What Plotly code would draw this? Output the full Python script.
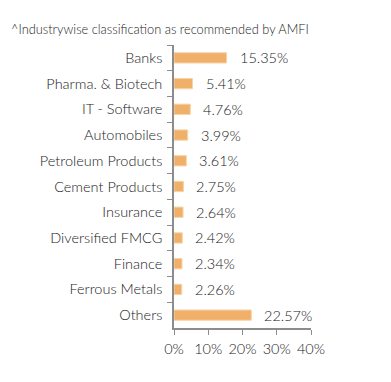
import plotly.graph_objects as go

categories = ["Banks", "Pharma. & Biotech", "IT - Software", "Automobiles",
              "Petroleum Products", "Cement Products", "Insurance",
              "Diversified FMCG", "Finance", "Ferrous Metals", "Others"]
values = [15.35, 5.41, 4.76, 3.99, 3.61, 2.75, 2.64, 2.42, 2.34, 2.26, 22.57]
value_labels = ["15.35%", "5.41%", "4.76%", "3.99%", "3.61%", "2.75%",
                "2.64%", "2.42%", "2.34%", "2.26%", "22.57%"]
x_ticks = [0, 10, 20, 30, 40]
x_tick_labels = ["0%", "10%", "20%", "30%", "40%"]
title_text = "^Industrywise classification as recommended by AMFI"

FONT = "Lato Light, Lato"
TXT = "#222222"
AX = "#8c8c8c"
L, R, T, B = 166, 80, 37, 54
W, H = 383, 374
PW, PH = W - L - R, H - T - B

fig = go.Figure()
fig.add_trace(go.Bar(
    x=values, y=categories, orientation="h",
    marker=dict(color="#F0B06A", line=dict(color="#F7D3A8", width=1)),
    width=0.4,
))
for c, v, t in zip(categories, values, value_labels):
    fig.add_annotation(x=v, y=c, text=t, xanchor="left", xshift=11,
                       showarrow=False,
                       font=dict(family=FONT, size=14.5, color=TXT))

fig.update_layout(
    width=W, height=H,
    margin=dict(l=L, r=R, t=T, b=B),
    paper_bgcolor="white", plot_bgcolor="white",
    font=dict(family=FONT, size=14, color=TXT),
    showlegend=False,
)
fig.add_annotation(text=title_text, xref="paper", yref="paper",
                   x=(1 - L) / PW, y=1 + (T - 21) / PH, xanchor="left", yanchor="middle",
                   showarrow=False, font=dict(family=FONT, size=12.8, color=TXT))

fig.update_xaxes(range=[0, 40], tickvals=x_ticks, ticktext=x_tick_labels,
                 showgrid=False, zeroline=False, showline=True,
                 linecolor=AX, linewidth=1.5, ticks="outside",
                 ticklen=5, tickcolor=AX, automargin=False,
                 ticklabelstandoff=2,
                 tickfont=dict(family=FONT, size=14.5, color=TXT))
fig.update_yaxes(categoryorder="array", categoryarray=categories,
                 autorange="reversed", automargin=False,
                 showgrid=False, showline=True, linecolor=AX, linewidth=1.5,
                 ticks="outside", tickson="boundaries", ticklen=5,
                 tickcolor=AX, ticklabelstandoff=7,
                 tickfont=dict(family=FONT, size=14.5, color=TXT))

fig.write_html("out.html")
